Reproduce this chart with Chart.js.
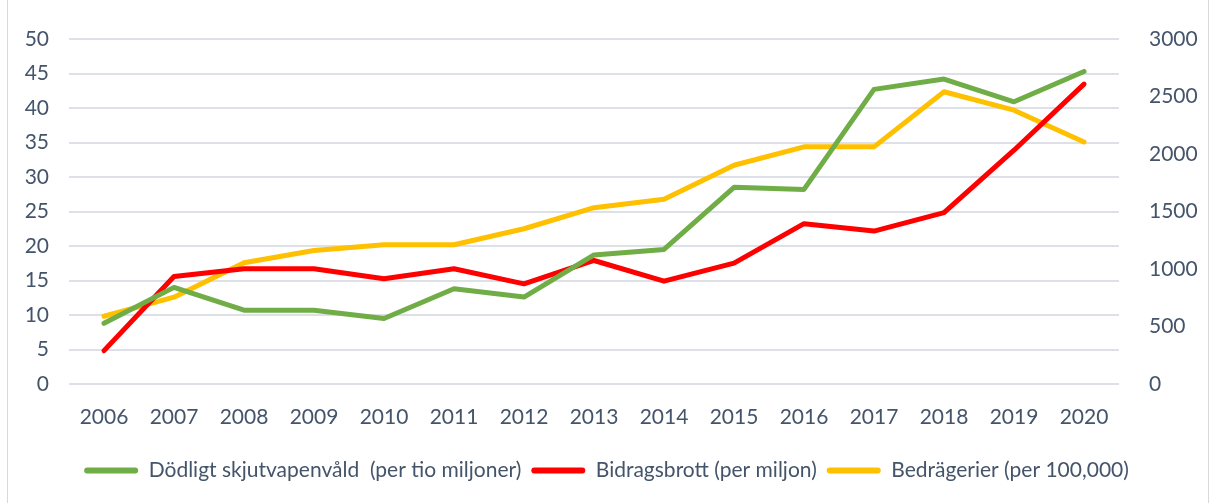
<!DOCTYPE html>
<html>
<head>
<meta charset="utf-8">
<script src="https://cdn.jsdelivr.net/npm/chart.js@4/dist/chart.umd.min.js"></script>
<style>
	html, body { margin: 0; padding: 0; background: #fff; }
	#wrap { position: relative; width: 1213px; height: 503px; }
	#frame { position: absolute; left: 7px; top: -1px; width: 1202px; height: 505px; border: 1px solid #d9d9d9; box-sizing: border-box; pointer-events: none; }
</style>
</head>
<body>
<div id="wrap">
	<canvas id="myChart" width="1213" height="503"></canvas>
	<div id="frame"></div>
</div>
<script>
const years = ["2006","2007","2008","2009","2010","2011","2012","2013","2014","2015","2016","2017","2018","2019","2020"];

// left axis
const skjutvapen = [8.8, 14.0, 10.7, 10.7, 9.5, 13.8, 12.6, 18.7, 19.5, 28.5, 28.2, 42.7, 44.2, 40.9, 45.3];
// right axis
const bidragsbrott = [290, 935, 1002, 1002, 915, 1002, 871, 1074, 894, 1051, 1394, 1330, 1490, 2033, 2608];
const bedragerier = [589, 755, 1054, 1161, 1211, 1211, 1350, 1533, 1606, 1902, 2062, 2062, 2541, 2381, 2105];

const seriesNames = ["Dödligt skjutvapenvåld  (per tio miljoner)", "Bidragsbrott (per miljon)", "Bedrägerier (per 100,000)"];
const seriesColors = ["#70AD47", "#FF0000", "#FFC000"];

const textColor = "#44546A";
const gridColor = "#DDE1E7";
const font = { family: "Lato", size: 21 };

function makeDataset(i, data, axis){
	return {
		label: seriesNames[i],
		data: data,
		yAxisID: axis,
		borderColor: seriesColors[i],
		backgroundColor: seriesColors[i],
		borderWidth: 5,
		pointRadius: 0,
		tension: 0,
		fill: false,
		borderCapStyle: "round",
		borderJoinStyle: "round"
	};
}

const ctx = document.getElementById("myChart").getContext("2d");

new Chart(ctx, {
	type: "line",
	data: {
		labels: years,
		datasets: [
			makeDataset(0, skjutvapen, "y"),
			makeDataset(1, bidragsbrott, "y1"),
			makeDataset(2, bedragerier, "y1")
		]
	},
	options: {
		responsive: false,
		animation: false,
		layout: { padding: { top: 39, bottom: 12, left: 0, right: 0 } },
		scales: {
			x: {
				offset: true,
				grid: { display: false, drawTicks: false },
				border: { display: false },
				ticks: { color: textColor, font: font, padding: 21, maxRotation: 0 },
				afterFit: function(s){ s.height = 66; }
			},
			y: {
				position: "left",
				min: 0, max: 50,
				ticks: { stepSize: 5, color: textColor, font: font, padding: 20 },
				grid: { color: gridColor, lineWidth: 2, drawTicks: false },
				border: { display: false },
				afterFit: function(s){ s.width = 69; }
			},
			y1: {
				position: "right",
				min: 0, max: 3000,
				ticks: {
					stepSize: 500, color: textColor, font: font, padding: 22,
					callback: function(v){ return String(v); }
				},
				grid: { display: false },
				border: { display: false },
				afterFit: function(s){ s.width = 94; }
			}
		},
		plugins: {
			legend: {
				position: "bottom",
				labels: {
					color: textColor,
					font: font,
					boxWidth: 54,
					boxHeight: 6,
					padding: 10,
					generateLabels: function(chart){
						let items = Chart.defaults.plugins.legend.labels.generateLabels(chart);
						for(let i = 0; i < items.length; i++){
							items[i].lineWidth = 0;
							items[i].fillStyle = seriesColors[i];
							items[i].borderRadius = 3;
						}
						return items;
					}
				}
			},
			tooltip: { enabled: false }
		}
	}
});
</script>
</body>
</html>
